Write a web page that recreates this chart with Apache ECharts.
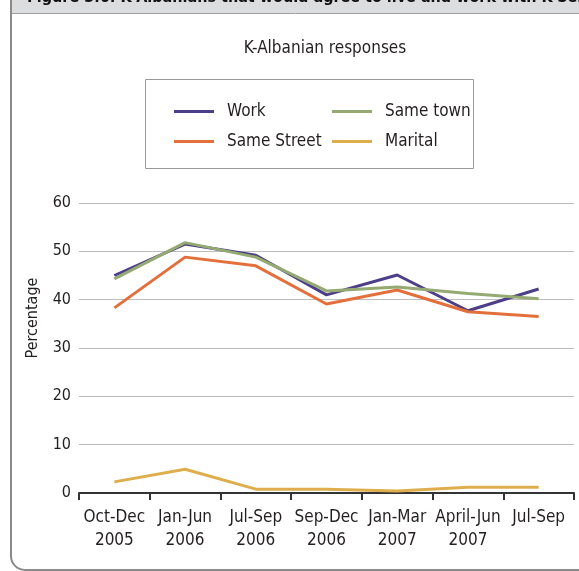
<!DOCTYPE html>
<html><head><meta charset="utf-8">
<script src="https://cdn.jsdelivr.net/npm/echarts@6/dist/echarts.min.js"></script>
<style>html,body{margin:0;padding:0;background:#fff}#c{width:579px;height:571px}</style>
</head><body><div id="c"></div>
<script>
var categories = ['Oct-Dec\n2005','Jan-Jun\n2006','Jul-Sep\n2006','Sep-Dec\n2006','Jan-Mar\n2007','April-Jun\n2007','Jul-Sep'];
var work = [45.0, 51.5, 49.2, 41.0, 45.1, 37.7, 42.2];
var sameTown = [44.3, 51.8, 48.8, 41.8, 42.6, 41.3, 40.2];
var sameStreet = [38.3, 48.8, 47.0, 39.1, 42.0, 37.5, 36.5];
var marital = [2.3, 4.9, 0.8, 0.8, 0.4, 1.2, 1.2];
var yTicks = [0, 10, 20, 30, 40, 50, 60];

var FONT = "'Liberation Sans Narrow','DejaVu Sans Condensed',sans-serif";
var TXT = '#231f20';
var colors = {work:'#4d3f87', town:'#94aa72', street:'#e3703c', marital:'#deae4c'};

var chart = echarts.init(document.getElementById('c'));
function leg(name, left, top){
  return {data:[name], left:left, top:top, icon:'rect', itemWidth:40, itemHeight:3, itemGap:0,
    selectedMode:false, textStyle:{fontFamily:FONT, fontSize:17, color:TXT, padding:[0,0,0,8]}};
}
chart.setOption({
  animation:false,
  backgroundColor:'#fff',
  title:{text:'K-Albanian responses', left:320, top:35, textAlign:'center',
    textStyle:{fontFamily:FONT, fontSize:17, fontWeight:'normal', color:TXT}},
  legend:[leg('Work',169,98), leg('Same town',327,98), leg('Same Street',169,128), leg('Marital',327,128)],
  grid:{left:79, right:5, top:203, bottom:78},
  xAxis:{type:'category', data:categories, boundaryGap:true,
    axisLine:{lineStyle:{color:'#333', width:2}},
    axisTick:{show:true, length:7, lineStyle:{color:'#333', width:2}},
    axisLabel:{fontFamily:FONT, fontSize:17, color:TXT, lineHeight:23, margin:13, interval:0}},
  yAxis:{type:'value', min:yTicks[0], max:yTicks[yTicks.length-1], interval:10,
    axisLine:{show:false}, axisTick:{show:false},
    splitLine:{lineStyle:{color:'#bdbdbd', width:1}},
    axisLabel:{fontFamily:FONT, fontSize:16, color:TXT, margin:8}},
  series:[
    {name:'Work', type:'line', data:work, symbol:'none', lineStyle:{width:3, color:colors.work}, itemStyle:{color:colors.work}},
    {name:'Same Street', type:'line', data:sameStreet, symbol:'none', lineStyle:{width:3, color:colors.street}, itemStyle:{color:colors.street}},
    {name:'Same town', type:'line', data:sameTown, symbol:'none', lineStyle:{width:3, color:colors.town}, itemStyle:{color:colors.town}},
    {name:'Marital', type:'line', data:marital, symbol:'none', lineStyle:{width:3, color:colors.marital}, itemStyle:{color:colors.marital}}
  ],
  graphic:[
    {type:'rect', shape:{x:11, y:-20, width:600, height:590, r:14}, style:{fill:null, stroke:'#8a8a8a', lineWidth:2}, z:-1},
    {type:'rect', shape:{x:12, y:0, width:570, height:13}, style:{fill:'#dcdddf'}, z:-1},
    {type:'line', shape:{x1:12, y1:13.5, x2:579, y2:13.5}, style:{stroke:'#a0a0a0', lineWidth:1}},
    {type:'text', style:{x:27, y:6, text:'Figure 3.6: K-Albanians that would agree to live and work with K-Serbs', verticalAlign:'bottom',
      font:'bold 16px ' + FONT, fill:'#111'}},
    {type:'rect', shape:{x:145.5, y:79.5, width:328, height:89}, style:{fill:null, stroke:'#999', lineWidth:1}},
    {type:'text', rotation:Math.PI/2, x:33, y:318, style:{text:'Percentage', align:'center', verticalAlign:'middle',
      font:'16px ' + FONT, fill:TXT}}
  ]
});
</script></body></html>
